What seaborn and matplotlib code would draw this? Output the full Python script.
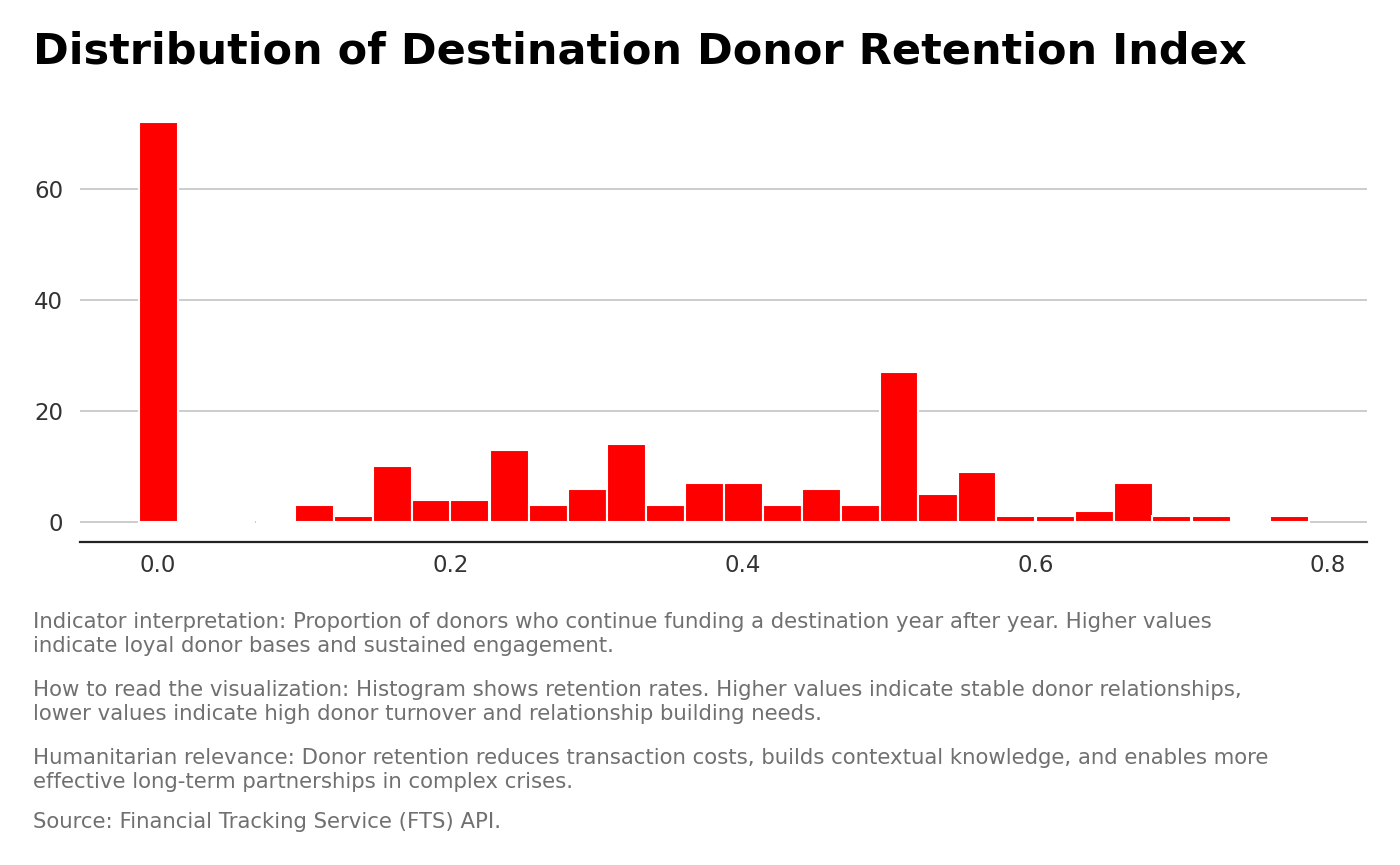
import numpy as np
import pandas as pd
import matplotlib
matplotlib.use("Agg")
import matplotlib.pyplot as plt
import seaborn as sns

# histogram bins (30 bins of width 0.8/30, centred on k * width)
bin_width = 0.8 / 30
bin_index = list(range(30))
bin_counts = [72, 0, 0, 0, 3, 1, 10, 4, 4, 13,
              3, 6, 14, 3, 7, 7, 3, 6, 3, 27,
              5, 9, 1, 1, 2, 7, 1, 1, 0, 1]

title = "Distribution of Destination Donor Retention Index"
caption_lines = [
    ("Indicator interpretation: Proportion of donors who continue funding a destination year after year. Higher values", 628),
    ("indicate loyal donor bases and sustained engagement.", 652),
    ("How to read the visualization: Histogram shows retention rates. Higher values indicate stable donor relationships,", 696),
    ("lower values indicate high donor turnover and relationship building needs.", 720),
    ("Humanitarian relevance: Donor retention reduces transaction costs, builds contextual knowledge, and enables more", 764),
    ("effective long-term partnerships in complex crises.", 788),
    ("Source: Financial Tracking Service (FTS) API.", 828),
]

df = pd.DataFrame({"retention": [i * bin_width for i in bin_index], "n": bin_counts})

sns.set_theme(style="white")
plt.rcParams['font.family'] = ['DejaVu Sans']

W, H = 1400, 865
fig = plt.figure(figsize=(W / 100, H / 100), dpi=100)
ax = fig.add_axes([80 / W, 1 - 542 / H, (1367 - 80) / W, (542 - 102) / H])

lo = -bin_width / 2
hi = 29 * bin_width + bin_width / 2
sns.histplot(data=df, x="retention", weights="n", bins=30, binrange=(lo, hi),
             color="#FF0000", alpha=1, edgecolor="white", linewidth=1.5, ax=ax, zorder=2)

ax.set_xlim(lo - 0.04, hi + 0.04)
ax.set_ylim(-72 * 0.05, 72 * 1.05)
ax.set_yticks([0, 20, 40, 60])
ax.set_xticks([0.0, 0.2, 0.4, 0.6, 0.8])
ax.set_xticklabels(["0.0", "0.2", "0.4", "0.6", "0.8"])
ax.yaxis.grid(True, color="#c4c4c4", linewidth=1.2, zorder=0)
ax.xaxis.grid(False)
ax.set_axisbelow(True)
for s in ["top", "right", "left"]:
    ax.spines[s].set_visible(False)
ax.spines["bottom"].set_color("#222222")
ax.spines["bottom"].set_linewidth(1.6)
ax.tick_params(axis="both", length=0, labelsize=16.5, colors="#333333", pad=9)
ax.tick_params(axis="y", pad=12)
ax.set_xlabel("")
ax.set_ylabel("")

fig.text(33 / W, 1 - 64 / H, title, fontsize=31, fontweight="bold", color="black", va="baseline")
for line, y in caption_lines:
    fig.text(33 / W, 1 - y / H, line, fontsize=15.3, color="#707070", va="baseline")

fig.savefig("out.png", dpi=100)
